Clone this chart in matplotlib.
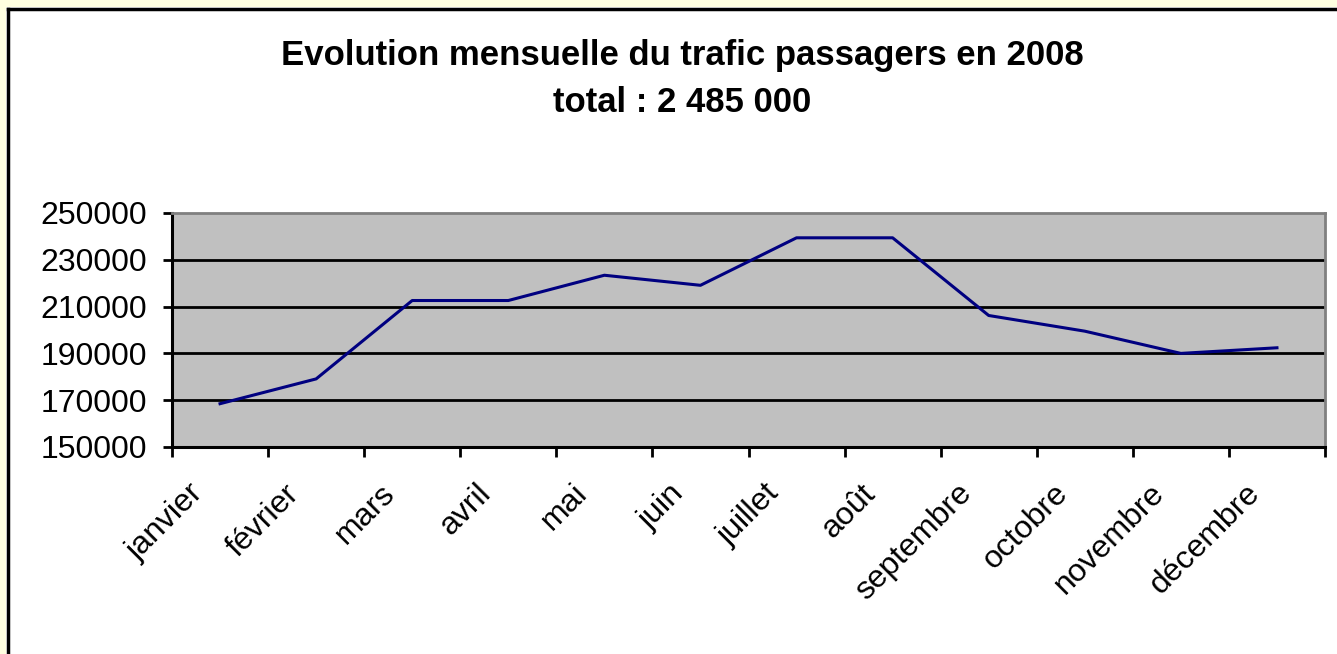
import matplotlib
matplotlib.use("Agg")
import matplotlib.pyplot as plt
from matplotlib.patches import Rectangle
from matplotlib.lines import Line2D
from matplotlib.transforms import ScaledTranslation

plt.rcParams["font.family"] = ["Liberation Sans", "DejaVu Sans"]

# Monthly passenger traffic, 2008
months = ["janvier", "février", "mars", "avril", "mai", "juin",
          "juillet", "août", "septembre", "octobre", "novembre", "décembre"]
passengers = [168500, 179100, 212600, 212600, 223400, 219100,
              239400, 239400, 206200, 199500, 190000, 192400]
yticks = [150000, 170000, 190000, 210000, 230000, 250000]

W, H = 1337, 654
fig = plt.figure(figsize=(W / 100, H / 100), dpi=100)
fig.patch.set_facecolor("white")

# pale yellow strip + black frame of the chart area (cropped right/bottom)
fig.patches.append(Rectangle((0, 1 - 7 / H), 1, 7 / H, transform=fig.transFigure,
                             facecolor="#FFFFE0", edgecolor="none", zorder=0))
fig.patches.append(Rectangle((0, 0), 6 / W, 1, transform=fig.transFigure,
                             facecolor="#FFFFE0", edgecolor="none", zorder=0))
fig.lines.append(Line2D([7.5 / W, 7.5 / W], [0, 1 - 8.5 / H], transform=fig.transFigure,
                        color="black", linewidth=2.5))
fig.lines.append(Line2D([7.5 / W, 1], [1 - 8.5 / H, 1 - 8.5 / H], transform=fig.transFigure,
                        color="black", linewidth=2.5))

ax = fig.add_axes([172 / W, 1 - 447 / H, (1325 - 172) / W, (447 - 213) / H])
ax.set_facecolor("#C0C0C0")

x = list(range(len(months)))
ax.plot(x, passengers, color="#000080", linewidth=2.2, zorder=3)

ax.set_xlim(-0.5, len(months) - 0.5)
ax.set_ylim(150000, 250000)
ax.set_yticks(yticks)
ax.set_yticklabels([str(v) for v in yticks], fontsize=23)
for v in yticks[1:-1]:
    ax.axhline(v, color="black", linewidth=2, zorder=2)

# ticks between categories, labels centred on categories
ax.set_xticks([i - 0.5 for i in range(len(months) + 1)])
ax.set_xticklabels([])
ax.set_xticks(x, minor=True)
ax.set_xticklabels(months, minor=True, rotation=45, ha="right", va="top",
                   rotation_mode="anchor", fontsize=23)
ax.tick_params(axis="x", which="minor", length=0, pad=14)
ax.tick_params(axis="x", which="major", direction="out", length=7, width=2)
ax.tick_params(axis="y", direction="out", length=6.5, width=2, pad=11.5)

shift = ScaledTranslation(-0.32, -0.12, fig.dpi_scale_trans)
for lbl in ax.get_xticklabels(minor=True):
    lbl.set_transform(lbl.get_transform() + shift)

for side in ["left", "bottom"]:
    ax.spines[side].set_linewidth(2.2)
    ax.spines[side].set_color("black")
for side in ["top", "right"]:
    ax.spines[side].set_linewidth(2)
    ax.spines[side].set_color("#808080")

fig.text(682 / W, 1 - 55 / H, "Evolution mensuelle du trafic passagers en 2008",
         ha="center", va="center", fontsize=25, fontweight="bold")
fig.text(682 / W, 1 - 103 / H, "total : 2 485 000",
         ha="center", va="center", fontsize=25, fontweight="bold")

fig.savefig("out.png", dpi=100)
